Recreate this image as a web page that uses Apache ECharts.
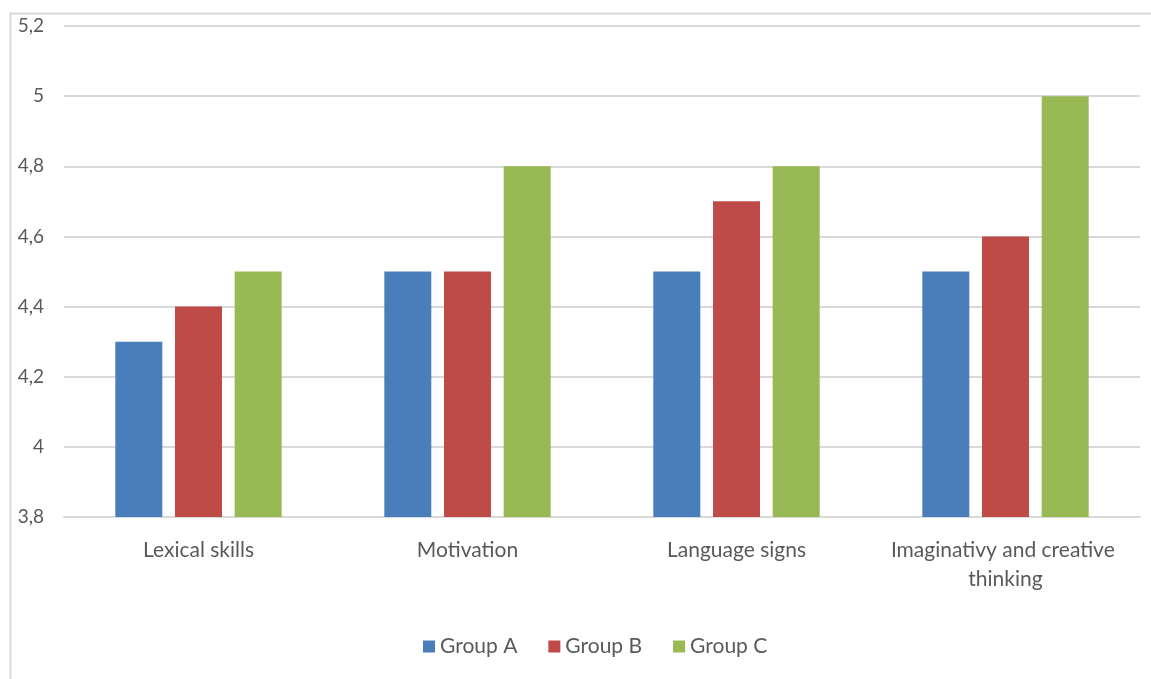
<!DOCTYPE html>
<html>
<head>
<meta charset="utf-8">
<script src="https://cdn.jsdelivr.net/npm/echarts@6/dist/echarts.min.js"></script>
<style>
  html, body { margin: 0; padding: 0; background: #fff; }
  #main { width: 1151px; height: 679px; }
</style>
</head>
<body>
<div id="main"></div>
<script>
var categories = ["Lexical skills", "Motivation", "Language signs", "Imaginativy and creative thinking"];
var groupA = [4.3, 4.5, 4.5, 4.5];
var groupB = [4.4, 4.5, 4.7, 4.6];
var groupC = [4.5, 4.8, 4.8, 5.0];

var chartDom = document.getElementById("main");
var myChart = echarts.init(chartDom);
var option;

var font = "Lato, 'Open Sans', sans-serif";

function bar(name, data) {
  return {
    name: name,
    type: "bar",
    barWidth: 47,
    barGap: "27%",
    data: data,
  };
}

option = {
  color: ["#4A7EBB", "#BE4B48", "#98B954"],
  textStyle: { fontFamily: font },
  graphic: [
    {
      type: "rect",
      left: 8,
      top: 11,
      shape: { width: 1200, height: 700 },
      style: { fill: "none", stroke: "#d9d9d9", lineWidth: 2 },
      silent: true,
    },
  ],
  grid: {
    left: 64,
    right: 11,
    top: 26,
    bottom: 162,
  },
  legend: {
    data: ["Group A", "Group B", "Group C"],
    bottom: 17,
    left: 418,
    icon: "rect",
    itemWidth: 12,
    itemHeight: 12,
    itemGap: 31,
    itemTextGap: 7,
    textStyle: { fontSize: 21, color: "#595959", fontFamily: font },
  },
  xAxis: {
    type: "category",
    data: categories,
    axisTick: { show: false },
    axisLine: { lineStyle: { color: "#d9d9d9", width: 2 } },
    axisLabel: {
      interval: 0,
      margin: 19,
      fontSize: 21,
      color: "#595959",
      fontFamily: font,
      width: 250,
      overflow: "break",
      lineHeight: 29,
    },
  },
  yAxis: {
    type: "value",
    min: 3.8,
    max: 5.2,
    interval: 0.2,
    axisLine: { show: false },
    axisTick: { show: false },
    splitLine: { lineStyle: { color: "#d9d9d9", width: 2 } },
    axisLabel: {
      margin: 20,
      fontSize: 19,
      color: "#595959",
      fontFamily: font,
      formatter: function (v) {
        return String(Math.round(v * 10) / 10).replace(".", ",");
      },
    },
  },
  series: [bar("Group A", groupA), bar("Group B", groupB), bar("Group C", groupC)],
};

option && myChart.setOption(option);
</script>
</body>
</html>
